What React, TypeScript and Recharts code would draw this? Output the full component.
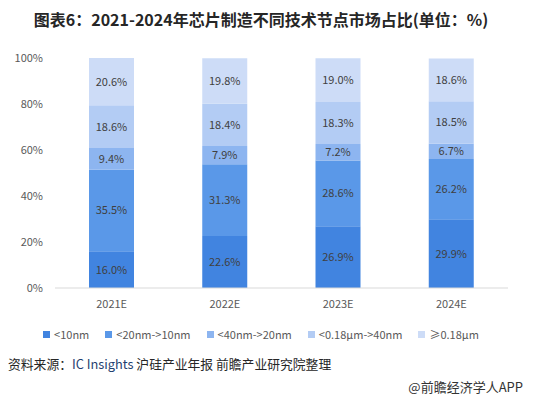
import React from "react"
import { BarChart, Bar, XAxis, YAxis, LabelList } from "recharts"

// 年份（横轴类别）
const years = ["2021E", "2022E", "2023E", "2024E"]

// 各技术节点占比（%）
const lt10 = [16.0, 22.6, 26.9, 29.9]
const nm20to10 = [35.5, 31.3, 28.6, 26.2]
const nm40to20 = [9.4, 7.9, 7.2, 6.7]
const um018to40 = [18.6, 18.4, 18.3, 18.5]
const ge018 = [20.6, 19.8, 19.0, 18.6]

const yTicks = [0, 20, 40, 60, 80, 100]

const SERIES = [
  { key: "a", name: "<10nm", values: lt10, color: "#4184E0" },
  { key: "b", name: "<20nm->10nm", values: nm20to10, color: "#5A98E8" },
  { key: "c", name: "<40nm->20nm", values: nm40to20, color: "#8DB5F0" },
  { key: "d", name: "<0.18μm->40nm", values: um018to40, color: "#B3CCF4" },
  { key: "e", name: "≥0.18μm", values: ge018, color: "#CDDCF7" },
]

const data = years.map((y, i) => {
  const row: Record<string, string | number> = { year: y }
  SERIES.forEach((s) => {
    row[s.key] = s.values[i]
  })
  return row
})

const FONT = '"Microsoft YaHei", "Noto Sans CJK SC", "Noto Sans", sans-serif'

export default function App() {
  return (
    <div
      style={{
        position: "absolute",
        left: 0,
        top: 0,
        width: 533,
        height: 397,
        background: "#fff",
        fontFamily: FONT,
        overflow: "hidden",
      }}
    >
      <div
        style={{
          position: "absolute",
          top: 7,
          left: 0,
          width: 522,
          textAlign: "center",
          fontSize: 16,
          fontWeight: "bold",
          color: "#262626",
        }}
      >
        图表6：2021-2024年芯片制造不同技术节点市场占比(单位：%)
      </div>

      <div style={{ position: "absolute", left: 0, top: 0 }}>
        <BarChart
          width={533}
          height={320}
          data={data}
          margin={{ top: 58, right: 25, left: 0, bottom: 0 }}
        >
          <XAxis
            dataKey="year"
            height={32}
            tickLine={false}
            stroke="#D9D9D9"
            tick={{ fill: "#595959", fontSize: 11, fontFamily: FONT }}
            tickMargin={6}
          />
          <YAxis
            width={55}
            domain={[0, 100]}
            ticks={yTicks}
            axisLine={false}
            tickLine={false}
            tickSize={0}
            tickMargin={12}
            tickFormatter={(v: number) => `${v}%`}
            tick={{ fill: "#595959", fontSize: 11, fontFamily: FONT }}
          />
          {SERIES.map((s) => (
            <Bar
              key={s.key}
              dataKey={s.key}
              name={s.name}
              stackId="t"
              fill={s.color}
              barSize={45}
              isAnimationActive={false}
            >
              <LabelList
                dataKey={s.key}
                position="center"
                formatter={(v: number) => `${Number(v).toFixed(1)}%`}
                style={{ fill: "#404040", fontSize: 11, fontFamily: FONT }}
              />
            </Bar>
          ))}
        </BarChart>
      </div>

      <div
        style={{
          position: "absolute",
          top: 326,
          left: 0,
          width: 522,
          display: "flex",
          justifyContent: "center",
          gap: 16,
          fontSize: 11,
          color: "#595959",
        }}
      >
        {SERIES.map((s) => (
          <span key={s.key} style={{ display: "inline-flex", alignItems: "center" }}>
            <span
              style={{
                display: "inline-block",
                width: 7,
                height: 7,
                background: s.color,
                marginRight: 4,
              }}
            />
            {s.name}
          </span>
        ))}
      </div>

      <div
        style={{
          position: "absolute",
          top: 354,
          left: 8,
          fontSize: 12.8,
          color: "#262626",
        }}
      >
        资料来源：<span style={{ color: "#1F3F70" }}>IC Insights</span> 沪硅产业年报 前瞻产业研究院整理
      </div>

      <div
        style={{
          position: "absolute",
          top: 377,
          right: 10,
          fontSize: 13,
          color: "#333",
        }}
      >
        @前瞻经济学人APP
      </div>
    </div>
  )
}
